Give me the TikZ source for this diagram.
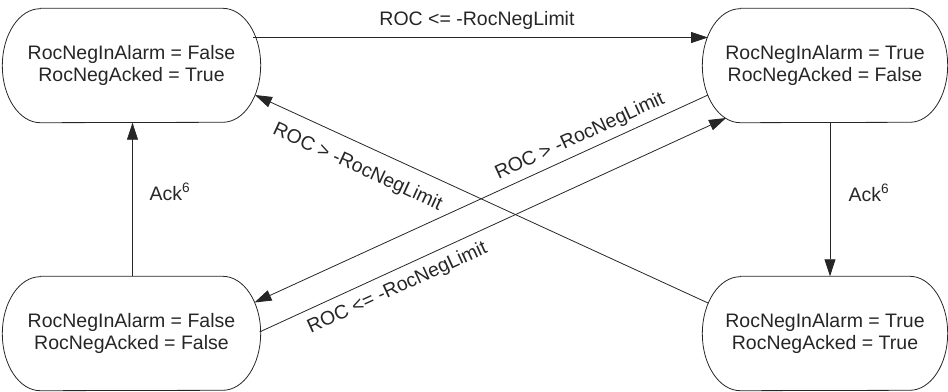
\documentclass[tikz,border=0pt]{standalone}
\usepackage{fontspec}
\setmainfont{Liberation Sans}
\usetikzlibrary{arrows.meta,calc}
\newcommand\statefont{\fontsize{19.5}{22.5}\selectfont}
\newcommand\capsule[1]{%
  \draw[outline] ($(#1.north west)+(38,0)$) -- ($(#1.north east)+(-38,0)$)
    arc[start angle=90,end angle=-90,x radius=38pt,y radius=57pt]
    -- ($(#1.south west)+(38,0)$)
    arc[start angle=270,end angle=90,x radius=38pt,y radius=57pt] -- cycle;}
\tikzset{
  outline/.style={draw=black!85, line width=0.8pt},
  state/.style={minimum width=#1, minimum height=114pt, inner sep=0pt,
    align=center, font=\statefont, text=black!85},
  trans/.style={draw=black!85, line width=0.8pt,
    -{Triangle[length=17pt,width=11pt]}},
  lbl/.style={font=\statefont, text=black!85, inner sep=0pt}
}
\begin{document}
\begin{tikzpicture}[x=1pt,y=1pt]
\useasboundingbox (0,0) rectangle (948,391);
\node[state=258pt] (TL) at (131.5,325.5) {RocNegInAlarm = False\\RocNegAcked = True};
\node[state=245pt] (TR) at (825,325.5) {RocNegInAlarm = True\\RocNegAcked = False};
\node[state=258pt] (BL) at (131.5,57.5) {RocNegInAlarm = False\\RocNegAcked = False};
\node[state=245pt] (BR) at (825,57.5) {RocNegInAlarm = True\\RocNegAcked = True};
\capsule{TL}\capsule{TR}\capsule{BL}\capsule{BR}

\draw[trans] ($(TL.center)+(121.5,28)$) -- ($(TR.center)+(-117,28)$);
\draw[trans] ($(TR.south)+(5,0)$) -- ($(BR.north)+(5,0)$);
\draw[trans] ($(BL.north)+(1,0)$) -- ($(TL.south)+(1,0)$);
\draw[trans] ($(BR.center)+(-117,30.5)$) -- ($(TL.center)+(123.5,-29.5)$);
\draw[trans] ($(TR.center)+(-117,-29.5)$) -- ($(BL.center)+(123,31)$);
\draw[trans] ($(BL.center)+(128,1.5)$) -- ($(TR.center)+(-99,-52.5)$);

\node[lbl] (l1) at (477,371) {ROC <= -RocNegLimit};
\node[lbl] (l2) at (170,199) {Ack\textsuperscript{6}};
\node[lbl] (l3) at (869,198) {Ack\textsuperscript{6}};
\node[lbl, rotate=-24.6] (l4) at (357.5,223.5) {ROC > -RocNegLimit};
\node[lbl, rotate=24.6] (l5) at (580,254.3) {ROC > -RocNegLimit};
\node[lbl, rotate=24.6] (l6) at (397.5,102.7) {ROC <= -RocNegLimit};
\end{tikzpicture}
\end{document}
